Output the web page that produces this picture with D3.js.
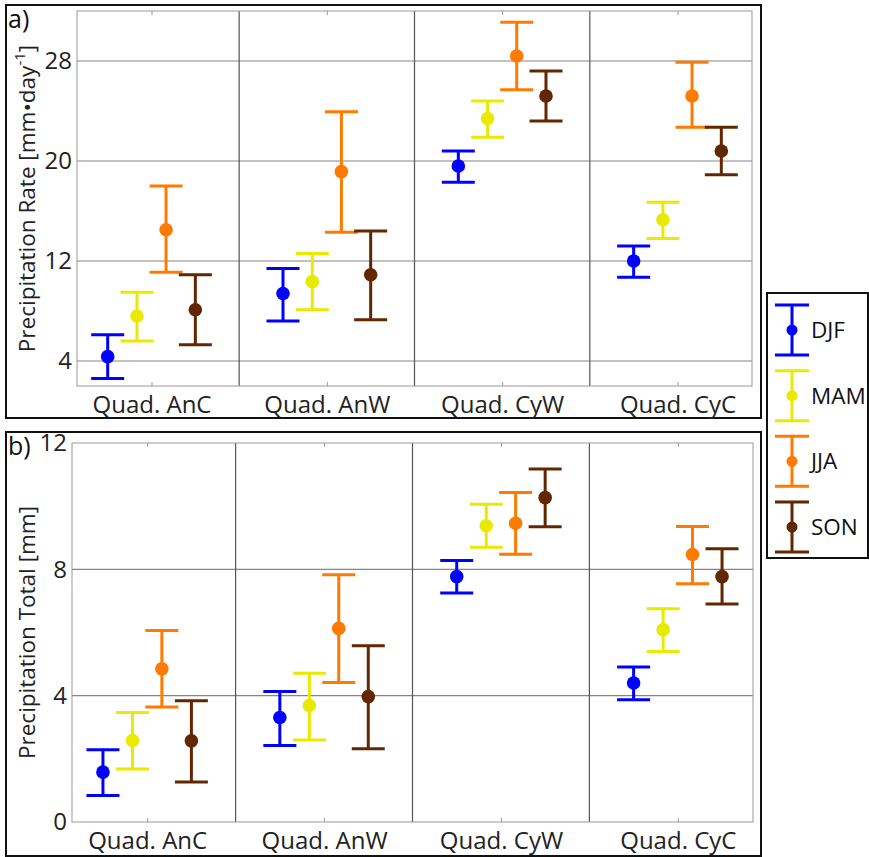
<!DOCTYPE html>
<html>
<head>
<meta charset="utf-8">
<style>
body { margin: 0; background: #fff; }
svg { font-family: "Open Sans", sans-serif; }
</style>
</head>
<body>
<div id="container"></div>
<script src="https://d3js.org/d3.v7.min.js"></script>
<script>
// Categories, seasons and tick labels
const quads = ["Quad. AnC", "Quad. AnW", "Quad. CyW", "Quad. CyC"];
const seasons = ["DJF", "MAM", "JJA", "SON"];
const seasonColors = ["#0000ff", "#eaea00", "#ff7a00", "#622600"];
const rateTicks = [4, 12, 20, 28];
const totalTicks = [0, 4, 8, 12];

// Precipitation rate [mm/day]: mean, lower, upper per quad (rows) and season (cols)
const rateMean = [
  [4.35, 7.6, 14.5, 8.1],
  [9.4, 10.35, 19.15, 10.9],
  [19.6, 23.4, 28.4, 25.2],
  [12.0, 15.3, 25.2, 20.8]
];
const rateLow = [
  [2.6, 5.6, 11.1, 5.3],
  [7.2, 8.1, 14.3, 7.3],
  [18.3, 21.9, 25.7, 23.2],
  [10.7, 13.8, 22.7, 18.9]
];
const rateHigh = [
  [6.1, 9.5, 18.0, 10.9],
  [11.4, 12.6, 23.95, 14.4],
  [20.8, 24.8, 31.1, 27.2],
  [13.2, 16.7, 27.9, 22.7]
];

// Precipitation total [mm]
const totalMean = [
  [1.58, 2.58, 4.85, 2.57],
  [3.31, 3.69, 6.13, 3.97],
  [7.77, 9.38, 9.46, 10.27],
  [4.4, 6.09, 8.47, 7.77]
];
const totalLow = [
  [0.84, 1.68, 3.64, 1.27],
  [2.42, 2.6, 4.42, 2.32],
  [7.25, 8.7, 8.48, 9.35],
  [3.87, 5.4, 7.54, 6.9]
];
const totalHigh = [
  [2.29, 3.47, 6.06, 3.84],
  [4.13, 4.71, 7.83, 5.58],
  [8.28, 10.06, 10.43, 11.18],
  [4.91, 6.75, 9.36, 8.65]
];

const seasonOffset = [-0.25, -0.083, 0.083, 0.25];
const fs = 22.5;   // labels and legend
const tfs = 24;    // tick labels

const width = 869, height = 857;
const svg = d3.create("svg").attr("width", width).attr("height", height);

function panel(opts) {
  const { box, left, right, top, bottom, domain, ticks, mean, low, high, label, letter } = opts;

  // outer box
  svg.append("rect")
    .attr("x", box[0]).attr("y", box[1])
    .attr("width", box[2] - box[0]).attr("height", box[3] - box[1])
    .attr("fill", "none").attr("stroke", "#111").attr("stroke-width", 2);

  const x = d3.scaleLinear().domain([0.575, 4.425]).range([left, right]);
  const y = d3.scaleLinear().domain(domain).range([bottom, top]);

  const g = svg.append("g");

  // horizontal grid
  g.append("g").selectAll("line").data(ticks.filter(t => t > domain[0] && t < domain[1]))
    .join("line")
    .attr("x1", left).attr("x2", right)
    .attr("y1", d => y(d)).attr("y2", d => y(d))
    .attr("stroke", "#858585").attr("stroke-width", 1.2);

  // category separators
  g.append("g").selectAll("line").data([1.5, 2.5, 3.5])
    .join("line")
    .attr("x1", d => x(d)).attr("x2", d => x(d))
    .attr("y1", top).attr("y2", bottom)
    .attr("stroke", "#555").attr("stroke-width", 1.2);

  // plot frame
  g.append("rect")
    .attr("x", left).attr("y", top)
    .attr("width", right - left).attr("height", bottom - top)
    .attr("fill", "none").attr("stroke", "#999").attr("stroke-width", 1);

  // x axis (category labels + inward ticks top and bottom)
  const xAxis = d3.axisBottom(x).tickValues([1, 2, 3, 4])
    .tickFormat(d => quads[d - 1]).tickSizeInner(-4).tickSizeOuter(0).tickPadding(10);
  const xa = g.append("g").attr("transform", `translate(0,${bottom})`).call(xAxis)
    .attr("font-family", null);
  xa.select(".domain").remove();
  xa.selectAll("line").attr("stroke", "#999");
  xa.selectAll("text").attr("font-size", tfs).attr("fill", "#222");
  const xt = g.append("g").attr("transform", `translate(0,${top})`)
    .call(d3.axisTop(x).tickValues([1, 2, 3, 4]).tickFormat("").tickSizeInner(-4).tickSizeOuter(0));
  xt.select(".domain").remove();
  xt.selectAll("line").attr("stroke", "#999");

  // y axis
  const ya = g.append("g").attr("transform", `translate(${left},0)`)
    .call(d3.axisLeft(y).tickValues(ticks).tickSize(0).tickPadding(5))
    .attr("font-family", null);
  ya.select(".domain").remove();
  ya.selectAll("text").attr("font-size", tfs).attr("fill", "#222");

  // error bars
  const pts = [];
  quads.forEach((q, i) => seasons.forEach((s, j) => {
    pts.push({ q: i + 1, s: j, m: mean[i][j], lo: low[i][j], hi: high[i][j] });
  }));
  const cap = 16.5;
  const eb = g.append("g").selectAll("g").data(pts).join("g")
    .attr("stroke", d => seasonColors[d.s])
    .attr("fill", d => seasonColors[d.s]);
  eb.append("line")
    .attr("x1", d => x(d.q + seasonOffset[d.s])).attr("x2", d => x(d.q + seasonOffset[d.s]))
    .attr("y1", d => y(d.lo)).attr("y2", d => y(d.hi)).attr("stroke-width", 3);
  eb.append("line")
    .attr("x1", d => x(d.q + seasonOffset[d.s]) - cap).attr("x2", d => x(d.q + seasonOffset[d.s]) + cap)
    .attr("y1", d => y(d.hi)).attr("y2", d => y(d.hi)).attr("stroke-width", 3);
  eb.append("line")
    .attr("x1", d => x(d.q + seasonOffset[d.s]) - cap).attr("x2", d => x(d.q + seasonOffset[d.s]) + cap)
    .attr("y1", d => y(d.lo)).attr("y2", d => y(d.lo)).attr("stroke-width", 3);
  eb.append("circle")
    .attr("cx", d => x(d.q + seasonOffset[d.s])).attr("cy", d => y(d.m))
    .attr("r", 6.8).attr("stroke", "none");

  // y label
  const yl = svg.append("text")
    .attr("transform", `translate(${box[0] + 29},${(top + bottom) / 2}) rotate(-90)`)
    .attr("text-anchor", "middle").attr("font-size", fs).attr("fill", "#222");
  label(yl);

  // panel letter
  svg.append("text").attr("x", box[0] + 2).attr("y", box[1] + 23)
    .attr("font-size", 25).attr("fill", "#111").text(letter);
}

panel({
  box: [6, 5, 761, 418], left: 77, right: 752, top: 11, bottom: 386,
  domain: [2, 32], ticks: rateTicks,
  mean: rateMean, low: rateLow, high: rateHigh, letter: "a)",
  label: t => {
    t.append("tspan").text("Precipitation Rate [mm\u2022day");
    t.append("tspan").attr("baseline-shift", "super").attr("font-size", 15).text("-1");
    t.append("tspan").text("]");
  }
});

panel({
  box: [6, 432, 761, 856], left: 72, right: 753, top: 443, bottom: 822,
  domain: [0, 12], ticks: totalTicks,
  mean: totalMean, low: totalLow, high: totalHigh, letter: "b)",
  label: t => t.text("Precipitation Total [mm]")
});

// legend
const leg = svg.append("g");
leg.append("rect").attr("x", 767).attr("y", 293).attr("width", 101).attr("height", 265)
  .attr("fill", "#fff").attr("stroke", "#111").attr("stroke-width", 2);
const ly = d3.scalePoint().domain(seasons).range([330, 527]);
const li = leg.selectAll("g.item").data(seasons).join("g").attr("class", "item")
  .attr("stroke", (d, i) => seasonColors[i]).attr("fill", (d, i) => seasonColors[i]);
li.append("line").attr("x1", 792).attr("x2", 792)
  .attr("y1", d => ly(d) - 25).attr("y2", d => ly(d) + 25).attr("stroke-width", 3);
li.append("line").attr("x1", 775).attr("x2", 809)
  .attr("y1", d => ly(d) - 25).attr("y2", d => ly(d) - 25).attr("stroke-width", 3);
li.append("line").attr("x1", 775).attr("x2", 809)
  .attr("y1", d => ly(d) + 25).attr("y2", d => ly(d) + 25).attr("stroke-width", 3);
li.append("circle").attr("cx", 792).attr("cy", d => ly(d)).attr("r", 5.5).attr("stroke", "none");
li.append("text").attr("x", 811).attr("y", d => ly(d) + 8)
  .attr("stroke", "none").attr("fill", "#111").attr("font-size", fs).text(d => d);

document.getElementById("container").append(svg.node());
</script>
</body>
</html>
